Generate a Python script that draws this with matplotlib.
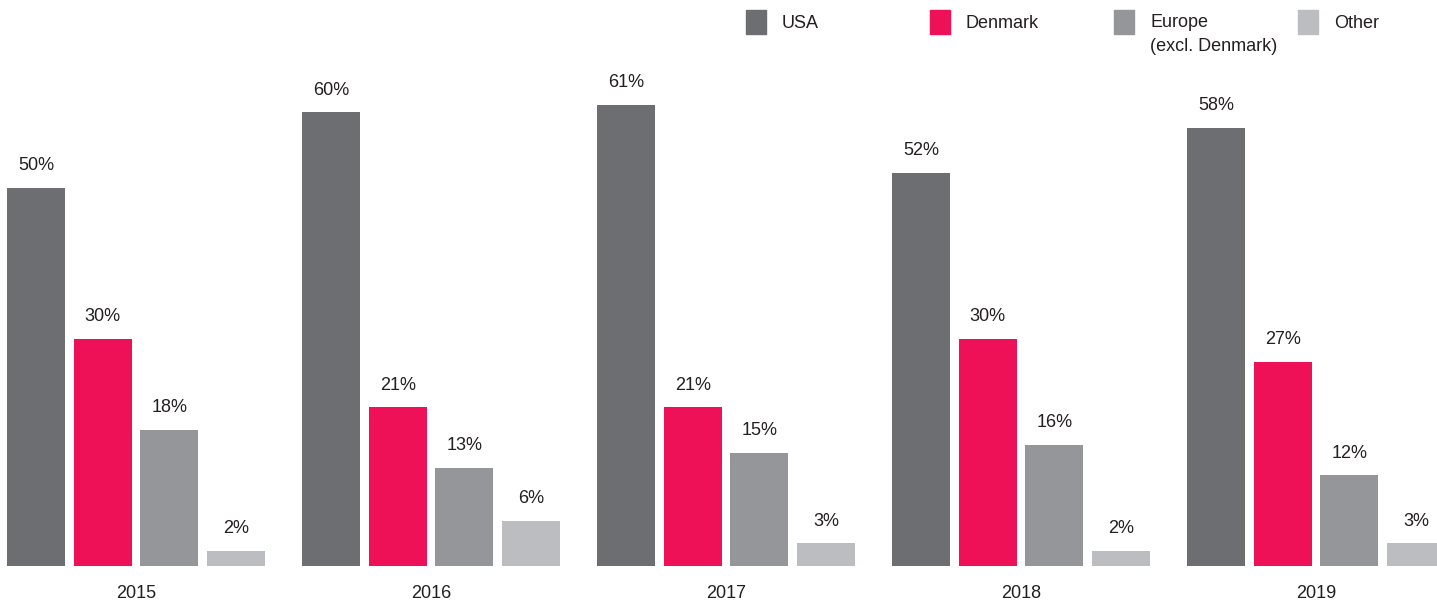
import numpy as np
import matplotlib
matplotlib.use("Agg")
import matplotlib.pyplot as plt
from matplotlib.patches import Rectangle

plt.rcParams['font.family'] = ['Liberation Sans', 'DejaVu Sans']

years = ['2015', '2016', '2017', '2018', '2019']
series = ['USA', 'Denmark', 'Europe\n(excl. Denmark)', 'Other']
usa = [50, 60, 61, 52, 58]
denmark = [30, 21, 21, 30, 27]
europe = [18, 13, 15, 16, 12]
other = [2, 6, 3, 2, 3]
colors = ['#6d6e72', '#ee1158', '#959699', '#bcbdc0']

W, H = 1437, 602
fig = plt.figure(figsize=(W / 100, H / 100), dpi=100)
ax = fig.add_axes([0, 36 / H, 1, 566 / H])

x = np.arange(len(years))
pitch = 66.7 / 295
width = 58 / 295
for k, vals in enumerate([usa, denmark, europe, other]):
    pos = x + (k - 1.5) * pitch
    ax.bar(pos, vals, width=width, color=colors[k], zorder=2)
    for p, v in zip(pos, vals):
        ax.annotate(f"{v}%", (p, v), xytext=(0, 16), textcoords='offset points',
                    ha='center', va='center', fontsize=13, color='#231f20')

ax.set_xlim((0 - 136) / 295, (W - 136) / 295)
ax.set_ylim(0, 566 / 7.56)
ax.axis('off')

for xi, yr in zip(x, years):
    ax.annotate(yr, (xi, 0), xytext=(0, -20), textcoords='offset points',
                ha='center', va='center', fontsize=13, color='#231f20')

# legend
leg_x = [746, 930, 1114, 1298]
for lx, name, c in zip(leg_x, series, colors):
    fig.patches.append(Rectangle((lx / W, 1 - 34 / H), 20 / W, 24 / H,
                                 transform=fig.transFigure, color=c))
    if '\n' in name:
        fig.text((lx + 36) / W, 1 - 14 / H, name, ha='left', va='top',
                 fontsize=13, color='#231f20', linespacing=1.55)
    else:
        fig.text((lx + 36) / W, 1 - 23 / H, name, ha='left', va='center',
                 fontsize=13, color='#231f20')

fig.savefig('out.png', dpi=100)
